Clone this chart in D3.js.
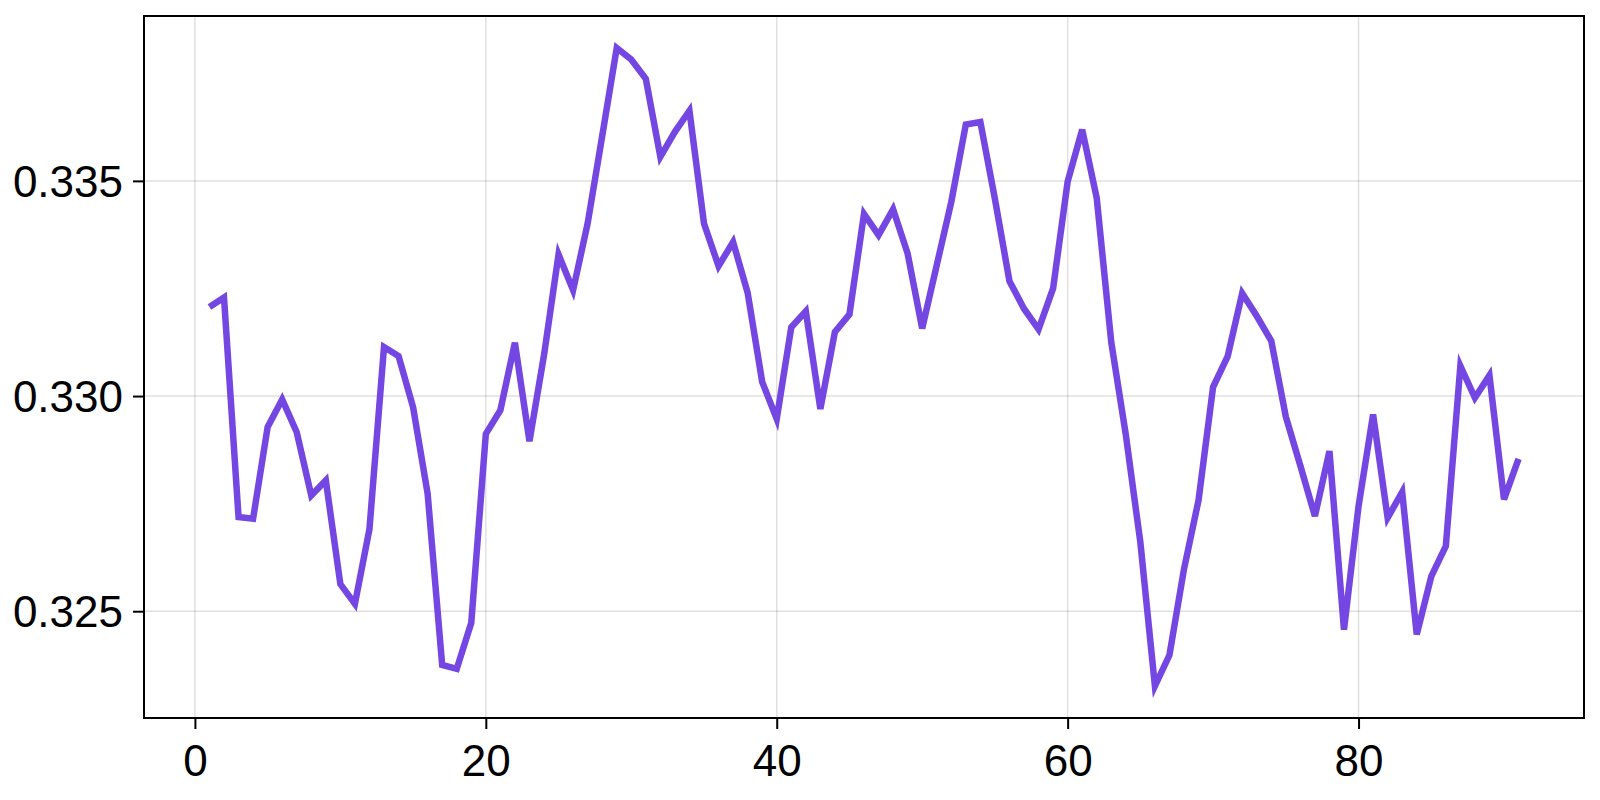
<!DOCTYPE html>
<html>
<head>
<meta charset="utf-8">
<script src="https://cdn.jsdelivr.net/npm/d3@7"></script>
<style>
  html, body { margin: 0; padding: 0; background: #fff; }
  svg { display: block; }
  text { font-family: "Liberation Sans", Arial, Helvetica, sans-serif; fill: #000; }
</style>
</head>
<body>
<svg id="chart"></svg>
<script>
// data
const xs = d3.range(1, 92);
const values = [
  0.33207, 0.33229, 0.32719, 0.32715, 0.32928, 0.32992, 0.32916, 0.32769, 0.32804, 0.32563,
  0.32517, 0.32691, 0.33114, 0.33093, 0.32974, 0.32773, 0.32375, 0.32366, 0.32473, 0.32912,
  0.32967, 0.33124, 0.32895, 0.33095, 0.33329, 0.33246, 0.33401, 0.33604, 0.33809, 0.33782,
  0.33737, 0.33556, 0.33614, 0.33663, 0.33401, 0.33302, 0.33358, 0.33240, 0.33033, 0.32947,
  0.33160, 0.33197, 0.32970, 0.33149, 0.33190, 0.33423, 0.33374, 0.33434, 0.33331, 0.33157,
  0.33304, 0.33451, 0.33631, 0.33637, 0.33458, 0.33267, 0.33203, 0.33155, 0.33250, 0.33498,
  0.33619, 0.33460, 0.33125, 0.32910, 0.32660, 0.32326, 0.32398, 0.32598, 0.32758, 0.33021,
  0.33092, 0.33239, 0.33186, 0.33128, 0.32952, 0.32838, 0.32721, 0.32872, 0.32457, 0.32744,
  0.32957, 0.32717, 0.32777, 0.32446, 0.32581, 0.32651, 0.33070, 0.32996, 0.33048, 0.32760,
  0.32854
];
const xTicks = [0, 20, 40, 60, 80];
const yTicks = [0.325, 0.330, 0.335];

const width = 1600, height = 800;
const margin = { top: 16, right: 16, bottom: 82, left: 144 };

const svg = d3.select("#chart").attr("width", width).attr("height", height);

// 5% padding on each side, like the original autolimits
const pad = (lo, hi) => { const p = (hi - lo) * 0.05; return [lo - p, hi + p]; };

const x = d3.scaleLinear()
  .domain(pad(d3.min(xs), d3.max(xs)))
  .range([margin.left, width - margin.right]);

const y = d3.scaleLinear()
  .domain(pad(d3.min(values), d3.max(values)))
  .range([height - margin.bottom, margin.top]);

// grid
const grid = svg.append("g").attr("stroke", "rgba(0,0,0,0.12)").attr("stroke-width", 1.5);
grid.selectAll("line.vx").data(xTicks).join("line")
  .attr("x1", d => x(d)).attr("x2", d => x(d))
  .attr("y1", margin.top).attr("y2", height - margin.bottom);
grid.selectAll("line.hy").data(yTicks).join("line")
  .attr("x1", margin.left).attr("x2", width - margin.right)
  .attr("y1", d => y(d)).attr("y2", d => y(d));

// the line
const line = d3.line()
  .x((d, i) => x(xs[i]))
  .y(d => y(d));

svg.append("path")
  .datum(values)
  .attr("fill", "none")
  .attr("stroke", "#7446e2")
  .attr("stroke-width", 6.5)
  .attr("stroke-linejoin", "miter")
  .attr("d", line);

// axes
const xAxis = d3.axisBottom(x).tickValues(xTicks).tickSize(11).tickPadding(16).tickFormat(d3.format("d"));
const yAxis = d3.axisLeft(y).tickValues(yTicks).tickSize(11).tickPadding(10).tickFormat(d3.format(".3f"));

const gx = svg.append("g").attr("transform", `translate(0,${height - margin.bottom})`).call(xAxis);
const gy = svg.append("g").attr("transform", `translate(${margin.left},0)`).call(yAxis);

[gx, gy].forEach(g => {
  g.select(".domain").remove();
  g.selectAll(".tick line").attr("stroke", "#000").attr("stroke-width", 2);
  g.selectAll(".tick text").attr("font-size", 44).attr("fill", "#000");
});
gy.selectAll(".tick text").attr("dy", "0.35em");

// frame
svg.append("rect")
  .attr("x", margin.left).attr("y", margin.top)
  .attr("width", width - margin.left - margin.right)
  .attr("height", height - margin.top - margin.bottom)
  .attr("fill", "none").attr("stroke", "#000").attr("stroke-width", 2);
</script>
</body>
</html>
